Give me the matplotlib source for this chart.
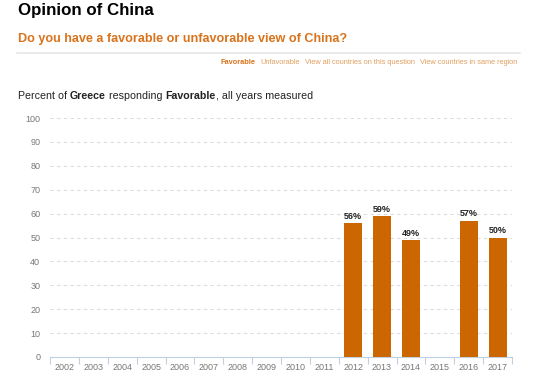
import matplotlib
matplotlib.use("Agg")
import matplotlib.pyplot as plt

years = [str(y) for y in range(2002, 2018)]
values = [None, None, None, None, None, None, None, None, None, None, 56, 59, 49, None, 57, 50]
yticks = [0, 10, 20, 30, 40, 50, 60, 70, 80, 90, 100]

plt.rcParams['font.family'] = ['Liberation Sans', 'DejaVu Sans']

W, H = 534, 380
fig = plt.figure(figsize=(W / 100, H / 100), dpi=100)

bar_color = '#cc6600'
orange = '#d8731c'
light_orange = '#e0a060'

fig.text(18 / W, 1 - 11 / H, 'Opinion of China', fontsize=12.2, fontweight='heavy', color='black', va='center', ha='left')
fig.text(18 / W, 1 - 39 / H, 'Do you have a favorable or unfavorable view of China?', fontsize=9.1, fontweight='bold', color=orange, va='center', ha='left')
fig.add_artist(plt.Line2D([17 / W, 520 / W], [1 - 53 / H, 1 - 53 / H], color='#e6e6e6', lw=1.2, transform=fig.transFigure))

links = [('View countries in same region', False), ('View all countries on this question', False), ('Unfavorable', False), ('Favorable', True)]
x = 517
renderer = fig.canvas.get_renderer()
for txt, bold in links:
    t = fig.text(x / W, 1 - 62 / H, txt, fontsize=5.3, fontweight='bold' if bold else 'normal',
                 color=orange if bold else light_orange, ha='right', va='center')
    bb = t.get_window_extent(renderer=renderer)
    x = x - bb.width - 5

parts = [('Percent of ', 'normal'), ('Greece', 'bold'), (' responding ', 'normal'), ('Favorable', 'bold'), (', all years measured', 'normal')]
x = 18
for txt, wt in parts:
    t = fig.text(x / W, 1 - 96 / H, txt, fontsize=7.7, fontweight=wt, color='#222222', ha='left', va='center')
    bb = t.get_window_extent(renderer=renderer)
    x += bb.width

ax = fig.add_axes([50 / W, 1 - 357 / H, (512 - 50) / W, (357 - 118) / H])
xs = list(range(len(years)))
for i, v in zip(xs, values):
    if v is not None:
        ax.bar(i, v, width=0.62, color=bar_color, zorder=3)
        ax.text(i, v + 1, f'{v}%', ha='center', va='bottom', fontsize=6.5, fontweight='bold', color='#222222', zorder=4)

ax.set_xlim(-0.5, len(years) - 0.5)
ax.set_ylim(0, 100)
ax.set_yticks(yticks)
ax.set_yticklabels([str(t) for t in yticks], fontsize=6.5, color='#777777')
ax.set_xticks(xs)
ax.set_xticklabels(years, fontsize=6.5, color='#777777')
ax.tick_params(axis='x', length=0, pad=4)
ax.tick_params(axis='y', length=0, pad=7)
ax.set_xticks([i - 0.5 for i in range(len(years) + 1)], minor=True)
ax.tick_params(axis='x', which='minor', length=5, color='#c0d0e0', width=0.8)
for s in ['top', 'right', 'left']:
    ax.spines[s].set_visible(False)
ax.spines['bottom'].set_color('#c0d0e0')
ax.grid(axis='y', which='major', linestyle=(0, (3, 3)), color='#dddddd', lw=0.8, zorder=0)
ax.set_axisbelow(True)

fig.savefig('out.png', dpi=100, facecolor='white')
